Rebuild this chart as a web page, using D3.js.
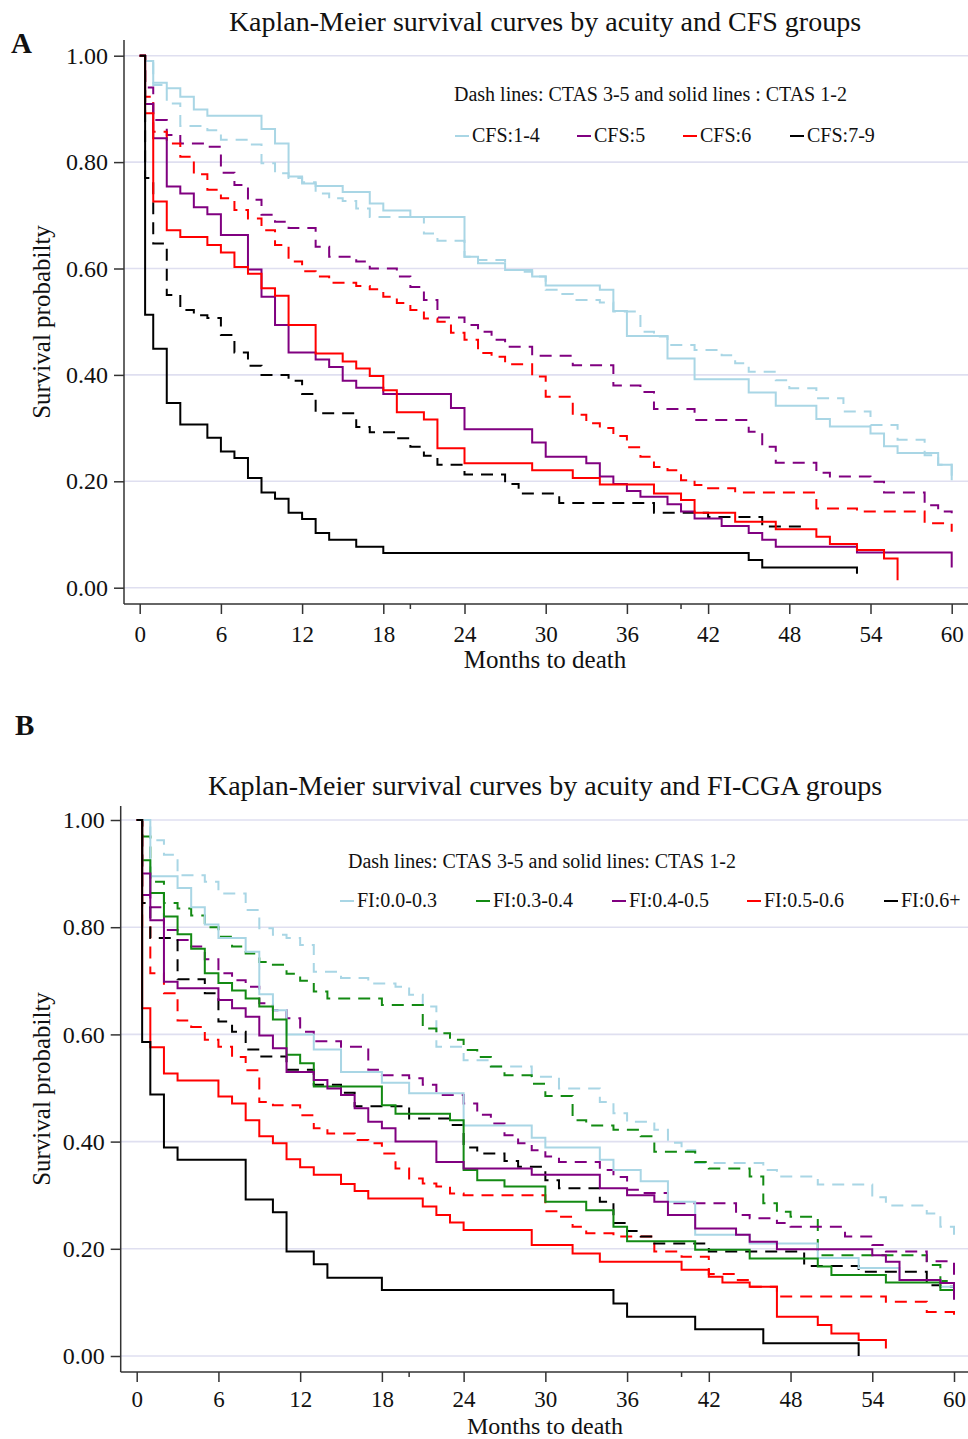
<!DOCTYPE html>
<html>
<head>
<meta charset="UTF-8">
<style>
  body { margin: 0; background: #fff; }
  text { font-family: "Liberation Serif", "Times New Roman", serif; fill: #111; }
</style>
</head>
<body>
<svg id="chart" width="968" height="1439"></svg>
<script src="https://d3js.org/d3.v7.min.js"></script>
<script>
// ---- shared axis values ----
const xTicks = [0, 6, 12, 18, 24, 30, 36, 42, 48, 54, 60];
const xMinorTicks = [20, 40];
const yTicks = [0, 0.2, 0.4, 0.6, 0.8, 1.0];

// ---- panel A: CFS groups, [month, survival] after each step ----
const cfsGroups = ["CFS:1-4", "CFS:5", "CFS:6", "CFS:7-9"];
const cfsSolidEnd = [60, 60, 56, 53];
const cfsDashEnd = [60, 60, 60, 49];

const cfs14Solid = [[0,1],[0.4,0.99],[1,0.949],[2,0.939],[3,0.923],[4,0.899],[5,0.887],[9,0.862],[10,0.835],[11,0.773],[12,0.760],[13,0.755],[15,0.744],[17,0.722],[18,0.709],[20,0.697],[24,0.622],[25,0.610],[27,0.597],[29,0.585],[30,0.568],[34,0.560],[35,0.520],[36,0.473],[39,0.431],[41,0.392],[45,0.367],[47,0.342],[50,0.317],[51,0.303],[54,0.290],[55,0.266],[56,0.253],[59,0.231],[60,0.202]];
const cfs14Dash = [[0,1],[0.4,0.99],[1,0.945],[2,0.91],[3,0.868],[5,0.86],[6,0.842],[8,0.833],[9,0.798],[10,0.779],[11,0.770],[12,0.762],[13,0.741],[14,0.732],[15,0.727],[16,0.713],[17,0.697],[21,0.666],[22,0.652],[24,0.622],[25,0.616],[27,0.597],[28,0.594],[29,0.585],[30,0.560],[31,0.552],[32,0.541],[34,0.536],[35,0.519],[37,0.481],[38,0.472],[39,0.456],[41,0.447],[43,0.437],[44,0.422],[45,0.406],[47,0.390],[48,0.375],[50,0.356],[52,0.331],[54,0.306],[56,0.278],[58,0.249],[59,0.231],[60,0.209]];
const cfs5Solid = [[0,1],[0.4,0.909],[1,0.845],[2,0.754],[3,0.741],[4,0.715],[5,0.702],[6,0.663],[8,0.598],[9,0.547],[10,0.494],[11,0.442],[13,0.429],[14,0.415],[15,0.389],[16,0.376],[18,0.364],[23,0.338],[24,0.298],[29,0.273],[30,0.246],[33,0.234],[34,0.209],[35,0.195],[36,0.182],[37,0.171],[39,0.157],[40,0.143],[41,0.130],[43,0.116],[45,0.103],[46,0.090],[47,0.077],[53,0.066],[60,0.038]];
const cfs5Dash = [[0,1],[0.4,0.94],[1,0.879],[2,0.851],[3,0.835],[5,0.829],[6,0.78],[7,0.757],[8,0.729],[9,0.701],[10,0.688],[11,0.676],[13,0.641],[14,0.622],[16,0.613],[17,0.600],[19,0.585],[20,0.565],[21,0.541],[22,0.508],[24,0.494],[25,0.481],[26,0.466],[27,0.453],[29,0.436],[32,0.418],[35,0.380],[37,0.368],[38,0.336],[41,0.315],[45,0.293],[46,0.265],[47,0.235],[50,0.216],[51,0.209],[54,0.199],[55,0.179],[58,0.155],[59,0.143],[60,0.140]];
const cfs6Solid = [[0,1],[0.4,0.892],[1,0.726],[2,0.672],[3,0.659],[5,0.644],[6,0.630],[7,0.603],[8,0.590],[9,0.563],[10,0.549],[11,0.494],[13,0.440],[15,0.425],[16,0.412],[17,0.398],[18,0.371],[19,0.330],[21,0.316],[22,0.262],[24,0.234],[29,0.221],[32,0.206],[34,0.194],[38,0.177],[40,0.165],[41,0.141],[44,0.124],[47,0.110],[50,0.096],[51,0.082],[53,0.071],[55,0.055],[56,0.014]];
const cfs6Dash = [[0,1],[0.4,0.923],[1,0.857],[2,0.835],[3,0.810],[4,0.777],[5,0.748],[6,0.732],[7,0.710],[8,0.694],[9,0.672],[10,0.644],[11,0.613],[12,0.595],[13,0.585],[14,0.573],[16,0.567],[17,0.561],[18,0.547],[19,0.535],[20,0.522],[21,0.506],[22,0.500],[23,0.479],[24,0.466],[25,0.441],[26,0.434],[27,0.420],[29,0.397],[30,0.359],[32,0.325],[33,0.309],[34,0.300],[35,0.285],[36,0.264],[37,0.246],[38,0.227],[39,0.221],[40,0.202],[41,0.193],[42,0.187],[44,0.179],[50,0.149],[53,0.143],[58,0.121],[60,0.105]];
const cfs79Solid = [[0,1],[0.4,0.513],[1,0.449],[2,0.347],[3,0.307],[5,0.282],[6,0.256],[7,0.244],[8,0.206],[9,0.179],[10,0.167],[11,0.141],[12,0.129],[13,0.103],[14,0.090],[16,0.077],[18,0.065],[45,0.052],[46,0.038],[53,0.026]];
const cfs79Dash = [[0,1],[0.4,0.77],[1,0.647],[2,0.550],[3,0.522],[4,0.512],[5,0.507],[6,0.475],[7,0.442],[8,0.417],[9,0.400],[11,0.389],[12,0.364],[13,0.328],[16,0.302],[17,0.292],[19,0.281],[20,0.265],[21,0.248],[22,0.231],[24,0.213],[27,0.195],[28,0.177],[31,0.159],[38,0.141],[42,0.133],[46,0.115],[49,0.110]];

// ---- panel B: FI-CGA groups ----
const fiGroups = ["FI:0.0-0.3", "FI:0.3-0.4", "FI:0.4-0.5", "FI:0.5-0.6", "FI:0.6+"];
const fiSolidEnd = [60, 60, 60, 55, 53];
const fiDashEnd = [60, 60, 60, 60, 60];

const fi03Solid = [[0,1],[1,0.895],[3,0.873],[4,0.837],[5,0.805],[6,0.78],[8,0.754],[9,0.675],[10,0.645],[11,0.600],[13,0.572],[15,0.530],[18,0.510],[20,0.490],[24,0.430],[29,0.407],[30,0.389],[34,0.366],[35,0.347],[37,0.326],[39,0.288],[41,0.226],[45,0.210],[50,0.183],[53,0.164],[56,0.142],[59,0.129],[60,0.123]];
const fi03Dash = [[0,1],[1,0.962],[2,0.935],[3,0.897],[5,0.885],[6,0.863],[8,0.832],[9,0.798],[10,0.786],[11,0.780],[12,0.767],[13,0.717],[15,0.705],[17,0.695],[19,0.689],[20,0.674],[21,0.652],[22,0.577],[24,0.552],[26,0.540],[29,0.521],[31,0.499],[34,0.474],[35,0.453],[36,0.437],[38,0.422],[39,0.398],[40,0.384],[41,0.360],[46,0.347],[47,0.335],[50,0.320],[54,0.296],[55,0.281],[58,0.266],[59,0.241],[60,0.222]];
const fi34Solid = [[0,1],[0.4,0.925],[1,0.864],[2,0.82],[3,0.787],[4,0.76],[5,0.714],[6,0.696],[7,0.682],[8,0.667],[9,0.652],[10,0.628],[11,0.562],[12,0.546],[13,0.503],[18,0.468],[19,0.452],[23,0.440],[24,0.347],[25,0.328],[27,0.316],[30,0.288],[33,0.272],[35,0.241],[36,0.214],[41,0.198],[45,0.182],[50,0.167],[51,0.151],[55,0.137],[59,0.123],[60,0.117]];
const fi34Dash = [[0,1],[0.4,0.969],[1,0.885],[2,0.845],[3,0.835],[4,0.822],[5,0.80],[6,0.782],[7,0.764],[8,0.751],[9,0.735],[10,0.73],[11,0.713],[12,0.70],[13,0.68],[14,0.667],[18,0.655],[21,0.611],[22,0.602],[23,0.590],[24,0.571],[25,0.558],[26,0.540],[27,0.524],[29,0.508],[30,0.485],[32,0.440],[33,0.430],[35,0.422],[37,0.410],[38,0.381],[41,0.362],[42,0.350],[45,0.335],[46,0.285],[47,0.269],[48,0.260],[50,0.188],[58,0.170],[59,0.14],[60,0.123]];
const fi45Solid = [[0,1],[0.4,0.90],[1,0.813],[2,0.698],[3,0.686],[6,0.664],[7,0.649],[8,0.633],[9,0.598],[10,0.574],[11,0.53],[13,0.515],[14,0.499],[15,0.487],[16,0.462],[17,0.437],[18,0.425],[19,0.400],[22,0.362],[24,0.350],[29,0.338],[34,0.313],[36,0.300],[38,0.288],[39,0.263],[41,0.238],[44,0.226],[45,0.213],[47,0.199],[54,0.188],[55,0.176],[56,0.142],[59,0.136],[60,0.105]];
const fi45Dash = [[0,1],[0.4,0.86],[1,0.837],[2,0.795],[3,0.776],[4,0.764],[5,0.74],[6,0.714],[7,0.701],[8,0.689],[9,0.658],[10,0.645],[11,0.630],[12,0.605],[13,0.587],[15,0.577],[17,0.534],[18,0.524],[20,0.518],[21,0.506],[22,0.487],[24,0.471],[25,0.450],[26,0.434],[27,0.412],[28,0.397],[29,0.384],[30,0.372],[31,0.362],[34,0.347],[35,0.334],[36,0.31],[37,0.304],[39,0.285],[44,0.263],[45,0.257],[47,0.248],[48,0.241],[52,0.223],[54,0.207],[55,0.195],[58,0.177],[60,0.148]];
const fi56Solid = [[0,1],[0.4,0.649],[1,0.576],[2,0.527],[3,0.514],[6,0.484],[7,0.471],[8,0.440],[9,0.410],[10,0.397],[11,0.367],[12,0.352],[13,0.338],[15,0.321],[16,0.308],[17,0.294],[21,0.279],[22,0.263],[23,0.249],[24,0.235],[29,0.207],[32,0.191],[34,0.176],[40,0.161],[42,0.148],[43,0.137],[45,0.129],[47,0.073],[50,0.058],[51,0.042],[53,0.030],[55,0.014]];
const fi56Dash = [[0,1],[0.4,0.80],[1,0.714],[2,0.677],[3,0.626],[4,0.614],[5,0.59],[6,0.577],[7,0.558],[8,0.533],[9,0.474],[10,0.468],[12,0.449],[13,0.425],[14,0.415],[16,0.403],[17,0.397],[18,0.378],[19,0.350],[20,0.331],[21,0.322],[22,0.316],[23,0.303],[24,0.300],[30,0.270],[31,0.260],[32,0.241],[33,0.229],[35,0.223],[38,0.195],[40,0.185],[42,0.153],[44,0.142],[45,0.129],[47,0.111],[55,0.101],[58,0.082],[60,0.076]];
const fi6Solid = [[0,1],[0.4,0.586],[1,0.488],[2,0.389],[3,0.366],[8,0.292],[10,0.268],[11,0.195],[13,0.171],[14,0.146],[18,0.123],[35,0.098],[36,0.073],[41,0.050],[46,0.024],[53,0.0]];
const fi6Dash = [[0,1],[0.4,0.845],[1,0.780],[3,0.703],[5,0.677],[6,0.624],[7,0.605],[8,0.572],[9,0.559],[11,0.534],[13,0.506],[15,0.491],[16,0.466],[20,0.443],[23,0.431],[24,0.389],[25,0.378],[27,0.364],[28,0.353],[30,0.328],[31,0.313],[34,0.288],[35,0.248],[36,0.233],[37,0.223],[38,0.210],[42,0.195],[49,0.168],[53,0.157],[58,0.132],[59,0.129],[60,0.120]];

const svg = d3.select("#chart");

function drawPanel(opt) {
    const g = svg.append("g");
    let x = d3.scaleLinear().domain([0, 60]).range([opt.x0, opt.x60]);
    let y = d3.scaleLinear().domain([0, 1]).range([opt.y0, opt.y1]);

    // panel letter + title
    g.append("text").attr("x", opt.letterX).attr("y", opt.letterY)
        .style("font-size", "29px").style("font-weight", "bold").text(opt.letter);
    g.append("text").attr("x", 545).attr("y", opt.titleY)
        .attr("text-anchor", "middle").style("font-size", "28px").text(opt.title);

    // gridlines
    g.append("g").selectAll("line").data(yTicks).enter().append("line")
        .attr("x1", opt.axisX).attr("x2", 968)
        .attr("y1", d => y(d)).attr("y2", d => y(d))
        .attr("stroke", "#dfdff0").attr("stroke-width", 1.6);

    // axes
    let yAxis = d3.axisLeft(y).tickValues(yTicks).tickFormat(d3.format(".2f"))
        .tickSize(10).tickPadding(6);
    let ya = g.append("g").attr("transform", "translate(" + opt.axisX + ",0)").call(yAxis);
    ya.select(".domain").attr("d", "M0," + opt.axisTop + "V" + opt.axisY);

    let xAxis = d3.axisBottom(x).tickValues(xTicks).tickSize(10).tickPadding(opt.tickPad);
    let xa = g.append("g").attr("transform", "translate(0," + opt.axisY + ")").call(xAxis);
    xa.select(".domain").attr("d", "M" + opt.axisX + ",0H968");
    xa.append("g").selectAll("line").data(xMinorTicks).enter().append("line")
        .attr("x1", d => x(d)).attr("x2", d => x(d)).attr("y1", 0).attr("y2", 5)
        .attr("stroke", "#333").attr("stroke-width", 1.5);

    ya.selectAll(".tick text").style("font-size", "24px");
    xa.selectAll(".tick text").style("font-size", "23px");
    [ya, xa].forEach(a => {
        a.selectAll(".domain, .tick line").attr("stroke", "#333").attr("stroke-width", 1.5);
        a.selectAll(".tick text").style("font-family", "'Liberation Serif', serif").attr("fill", "#111");
    });

    g.append("text").attr("x", 545).attr("y", opt.xTitleY)
        .attr("text-anchor", "middle").style("font-size", opt.xTitleSize + "px").text("Months to death");
    g.append("text")
        .attr("transform", "translate(50," + ((opt.axisTop + opt.axisY) / 2) + ") rotate(-90)")
        .attr("text-anchor", "middle").style("font-size", "25px").text("Survival probabilty");

    // curves
    let line = d3.line().x(d => x(d[0])).y(d => y(d[1])).curve(d3.curveStepAfter);
    let series = [];
    opt.groups.forEach((name, i) => {
        series.push({ pts: opt.dash[i], end: opt.dashEnd[i], color: opt.colors[i], dashed: true });
    });
    opt.groups.forEach((name, i) => {
        series.push({ pts: opt.solid[i], end: opt.solidEnd[i], color: opt.colors[i], dashed: false });
    });
    g.append("g").selectAll("path").data(series).enter().append("path")
        .attr("d", s => {
            let pts = s.pts.slice();
            let last = pts[pts.length - 1];
            if (s.end > last[0]) pts.push([s.end, last[1]]);
            return line(pts);
        })
        .attr("fill", "none")
        .attr("stroke", s => s.color)
        .attr("stroke-width", 2)
        .attr("stroke-dasharray", s => s.dashed ? "12,8" : null);

    // legend
    g.append("text").attr("x", opt.legTitleX).attr("y", opt.legTitleY)
        .style("font-size", "20px").text(opt.legTitle);
    let items = g.append("g").selectAll("g").data(opt.groups).enter().append("g")
        .attr("transform", (d, i) => "translate(" + opt.legX[i] + "," + opt.legY + ")");
    items.append("line").attr("x1", 0).attr("x2", 14).attr("y1", -6).attr("y2", -6)
        .attr("stroke", (d, i) => opt.colors[i]).attr("stroke-width", 2);
    items.append("text").attr("x", 17).attr("y", 0).style("font-size", "20px").text(d => d);
}

drawPanel({
    letter: "A", letterX: 11, letterY: 53,
    title: "Kaplan-Meier survival curves by acuity and CFS groups", titleY: 31,
    x0: 139.7, x60: 951.7, y0: 587.7, y1: 55.7,
    axisX: 124, axisTop: 40, axisY: 604,
    tickPad: 12, xTitleY: 668, xTitleSize: 25,
    groups: cfsGroups,
    colors: ["#a9d6e5", "#800080", "#ff0000", "#000000"],
    solid: [cfs14Solid, cfs5Solid, cfs6Solid, cfs79Solid],
    dash: [cfs14Dash, cfs5Dash, cfs6Dash, cfs79Dash],
    solidEnd: cfsSolidEnd, dashEnd: cfsDashEnd,
    legTitle: "Dash lines: CTAS 3-5 and solid lines : CTAS 1-2", legTitleX: 454, legTitleY: 101,
    legX: [455, 577, 683, 790], legY: 142
});

drawPanel({
    letter: "B", letterX: 15, letterY: 735,
    title: "Kaplan-Meier survival curves by acuity and FI-CGA groups", titleY: 795,
    x0: 136.7, x60: 954, y0: 1356, y1: 820,
    axisX: 120.7, axisTop: 806, axisY: 1372,
    tickPad: 9, xTitleY: 1434, xTitleSize: 24,
    groups: fiGroups,
    colors: ["#a9d6e5", "#138a13", "#800080", "#ff0000", "#000000"],
    solid: [fi03Solid, fi34Solid, fi45Solid, fi56Solid, fi6Solid],
    dash: [fi03Dash, fi34Dash, fi45Dash, fi56Dash, fi6Dash],
    solidEnd: fiSolidEnd, dashEnd: fiDashEnd,
    legTitle: "Dash lines: CTAS 3-5 and solid lines: CTAS 1-2", legTitleX: 348, legTitleY: 868,
    legX: [340, 476, 612, 747, 884], legY: 907
});
</script>
</body>
</html>
